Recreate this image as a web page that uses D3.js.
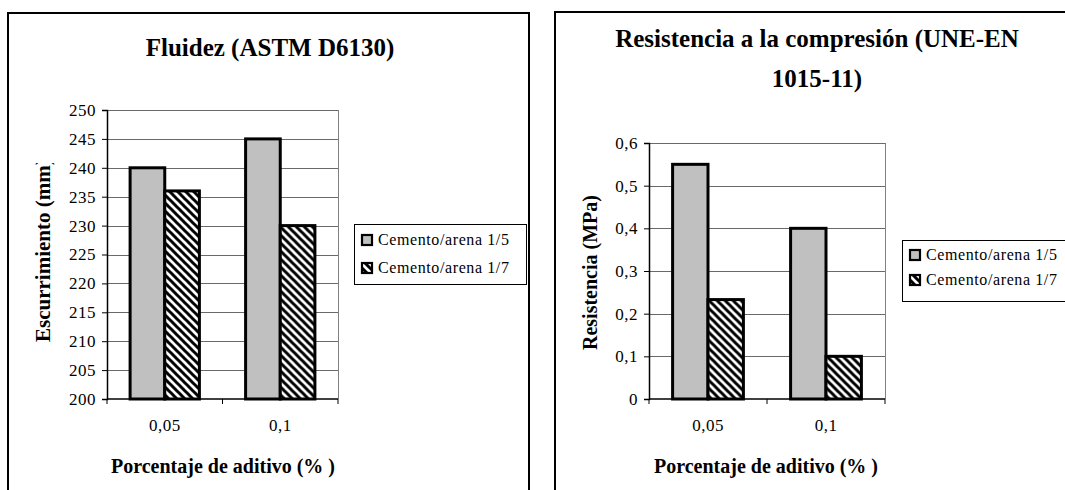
<!DOCTYPE html>
<html>
<head>
<meta charset="utf-8">
<script src="https://cdn.jsdelivr.net/npm/d3@7"></script>
<style>
  html, body { margin: 0; padding: 0; background: #fff; }
  svg { display: block; }
</style>
</head>
<body>
<svg id="chart" width="1065" height="490"></svg>
<script>
// ---------- DATA ----------
const categories = ["0,05", "0,1"];
const seriesNames = ["Cemento/arena 1/5", "Cemento/arena 1/7"];

const fluidezSerie15 = [240, 245];
const fluidezSerie17 = [236, 230];
const fluidezTicks = [200, 205, 210, 215, 220, 225, 230, 235, 240, 245, 250];
const fluidezTickLabels = ["200", "205", "210", "215", "220", "225", "230", "235", "240", "245", "250"];

const resistSerie15 = [0.55, 0.40];
const resistSerie17 = [0.233, 0.10];
const resistTicks = [0, 0.1, 0.2, 0.3, 0.4, 0.5, 0.6];
const resistTickLabels = ["0", "0,1", "0,2", "0,3", "0,4", "0,5", "0,6"];

const titleFluidez = ["Fluidez (ASTM D6130)"];
const titleResist = ["Resistencia a la compresión (UNE-EN", "1015-11)"];
const yTitleFluidez = "Escurrimiento (mm)";
const yTitleResist = "Resistencia (MPa)";
const xTitle = "Porcentaje de aditivo (% )";

// ---------- DRAWING ----------
const FONT = "'Liberation Serif', 'Times New Roman', Times, serif";
const svg = d3.select("#chart");
const defs = svg.append("defs");

const hatch = defs.append("pattern")
  .attr("id", "hatch")
  .attr("patternUnits", "userSpaceOnUse")
  .attr("width", 8).attr("height", 8);
hatch.append("rect").attr("width", 8).attr("height", 8).attr("fill", "#fff");
hatch.append("path")
  .attr("d", "M-2,-2L10,10M-2,6L2,10M6,-2L10,2")
  .attr("stroke", "#000").attr("stroke-width", 3);

const fills = ["#c0c0c0", "url(#hatch)"];

function drawChart(opt) {
  const g = svg.append("g");
  g.append("rect")
    .attr("x", opt.frame[0]).attr("y", opt.frame[1])
    .attr("width", opt.frame[2]).attr("height", opt.frame[3])
    .attr("fill", "none").attr("stroke", "#000").attr("stroke-width", 2);

  const x = d3.scaleBand().domain(categories).range([opt.plot.x0, opt.plot.x1])
    .paddingInner(0.4).paddingOuter(0.2);
  const xs = d3.scaleBand().domain([0, 1]).range([0, x.bandwidth()]);
  const y = d3.scaleLinear().domain(opt.yDomain).range([opt.plot.y1, opt.plot.y0]);

  g.append("g").selectAll("line").data(opt.ticks.slice(1)).join("line")
    .attr("x1", opt.plot.x0).attr("x2", opt.plot.x1)
    .attr("y1", d => Math.round(y(d)) + 0.5).attr("y2", d => Math.round(y(d)) + 0.5)
    .attr("stroke", "#6a6a6a").attr("stroke-width", 1);
  g.append("line")
    .attr("x1", opt.plot.x1 + 0.5).attr("x2", opt.plot.x1 + 0.5)
    .attr("y1", opt.plot.y0).attr("y2", opt.plot.y1)
    .attr("stroke", "#808080");

  const rows = categories.map((c, i) => ({ c, vals: [opt.s1[i], opt.s2[i]] }));
  const grp = g.append("g").selectAll("g").data(rows).join("g")
    .attr("transform", d => `translate(${x(d.c)},0)`);
  grp.selectAll("rect").data(d => d.vals.map((v, k) => ({ v, k }))).join("rect")
    .attr("x", d => xs(d.k))
    .attr("y", d => y(d.v))
    .attr("width", xs.bandwidth())
    .attr("height", d => y(opt.yDomain[0]) - y(d.v))
    .attr("fill", d => fills[d.k])
    .attr("stroke", "#000").attr("stroke-width", 3);

  const yAxis = d3.axisLeft(y).tickValues(opt.ticks)
    .tickFormat((d, i) => opt.tickLabels[i]).tickSize(5).tickPadding(6);
  const ya = g.append("g").attr("transform", `translate(${opt.plot.x0},0)`).call(yAxis)
    .attr("font-family", FONT).attr("font-size", 17);
  ya.select(".domain").attr("stroke", "#000").attr("stroke-width", 1.5);
  ya.selectAll(".tick line").attr("stroke", "#000");
  ya.selectAll(".tick text").attr("font-family", FONT).attr("font-size", 17)
    .attr("letter-spacing", "0.5px").attr("fill", "#000");

  const xa = g.append("g").attr("transform", `translate(0,${opt.plot.y1})`);
  xa.append("line").attr("x1", opt.plot.x0).attr("x2", opt.plot.x1)
    .attr("stroke", "#000").attr("stroke-width", 1.5);
  const bounds = [opt.plot.x0, (opt.plot.x0 + opt.plot.x1) / 2, opt.plot.x1];
  xa.selectAll("line.tk").data(bounds).join("line").attr("class", "tk")
    .attr("x1", d => d).attr("x2", d => d).attr("y1", 0).attr("y2", 5)
    .attr("stroke", "#000");
  xa.selectAll("text").data(categories).join("text")
    .attr("x", d => x(d) + x.bandwidth() / 2).attr("y", opt.xLabelY - opt.plot.y1)
    .attr("text-anchor", "middle").attr("font-family", FONT).attr("font-size", 17)
    .attr("letter-spacing", "0.5px")
    .text(d => d);

  g.append("g").selectAll("text").data(opt.title).join("text")
    .attr("x", opt.titleX).attr("y", (d, i) => opt.titleY + i * 40)
    .attr("text-anchor", "middle").attr("font-family", FONT)
    .attr("font-weight", "bold").attr("font-size", 25)
    .text(d => d);

  g.append("text").attr("x", opt.xTitleX).attr("y", opt.xTitleY)
    .attr("text-anchor", "middle").attr("font-family", FONT)
    .attr("font-weight", "bold").attr("font-size", 20)
    .text(xTitle);

  const yt = g.append("g");
  if (opt.yClip) {
    defs.append("clipPath").attr("id", opt.yClip.id).append("rect")
      .attr("x", 0).attr("y", opt.yClip.top).attr("width", 200).attr("height", 400);
    yt.attr("clip-path", `url(#${opt.yClip.id})`);
  }
  yt.append("text")
    .attr("transform", `translate(${opt.yTitleX},${opt.yTitleBottom}) rotate(-90)`)
    .attr("text-anchor", "start").attr("font-family", FONT)
    .attr("font-weight", "bold").attr("font-size", opt.yTitleSize)
    .text(opt.yTitle);

  const L = opt.legend;
  g.append("rect").attr("x", L.x + 0.5).attr("y", L.y + 0.5).attr("width", L.w).attr("height", L.h)
    .attr("fill", "#fff").attr("stroke", "#000").attr("stroke-width", 1);
  const items = g.append("g").selectAll("g").data(seriesNames).join("g")
    .attr("transform", (d, i) => `translate(${L.x + 8},${L.y + L.rowY[i]})`);
  items.append("rect").attr("x", 0).attr("y", -5).attr("width", 10).attr("height", 10)
    .attr("fill", (d, i) => fills[i]).attr("stroke", "#000").attr("stroke-width", 2.2);
  items.append("text").attr("x", 16).attr("y", 5).attr("font-family", FONT)
    .attr("font-size", 16).attr("letter-spacing", "0.6px").text(d => d);
}

drawChart({
  frame: [8, 13, 521, 500],
  plot: { x0: 107, x1: 338, y0: 110, y1: 399 },
  yDomain: [200, 250],
  ticks: fluidezTicks, tickLabels: fluidezTickLabels,
  s1: fluidezSerie15, s2: fluidezSerie17,
  title: titleFluidez, titleX: 270, titleY: 56,
  xTitleX: 223, xTitleY: 473, xLabelY: 431,
  yTitle: yTitleFluidez, yTitleX: 50, yTitleBottom: 342, yTitleSize: 21,
  yClip: { id: "clipY1", top: 163 },
  legend: { x: 354, y: 224, w: 172, h: 60, rowY: [16, 44] }
});

drawChart({
  frame: [555, 12, 540, 500],
  plot: { x0: 649, x1: 885, y0: 143, y1: 399 },
  yDomain: [0, 0.6],
  ticks: resistTicks, tickLabels: resistTickLabels,
  s1: resistSerie15, s2: resistSerie17,
  title: titleResist, titleX: 817, titleY: 47,
  xTitleX: 766, xTitleY: 473, xLabelY: 431,
  yTitle: yTitleResist, yTitleX: 597, yTitleBottom: 350, yTitleSize: 20,
  yClip: null,
  legend: { x: 902, y: 240, w: 180, h: 61, rowY: [15, 40] }
});
</script>
</body>
</html>
